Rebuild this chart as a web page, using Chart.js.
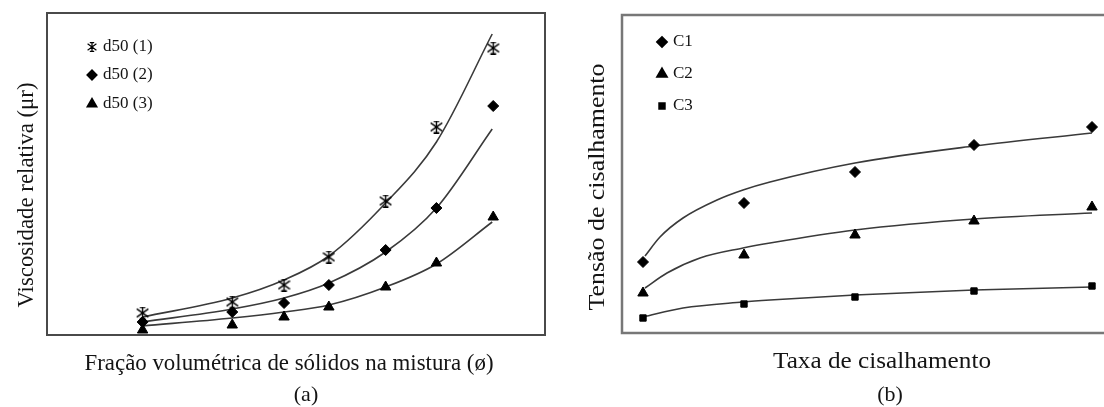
<!DOCTYPE html>
<html>
<head>
<meta charset="utf-8">
<script src="https://cdn.jsdelivr.net/npm/chart.js@4/dist/chart.umd.min.js"></script>
<style>
html, body { margin: 0; padding: 0; background: #fff; overflow: hidden; }
#wrapA { position: absolute; left: 0; top: 0; width: 552px; height: 407px; }
#wrapB { position: absolute; left: 552px; top: 0; width: 608px; height: 407px; }
</style>
</head>
<body>
<div id="wrapA"><canvas id="chartA" width="552" height="407"></canvas></div>
<div id="wrapB"><canvas id="chartB" width="608" height="407"></canvas></div>
<script>
// Panel (a) - no ticks in the original, so values are in plot units
var phiA = [96, 186, 238, 283, 340, 391, 448];
var d50_1 = [22, 33, 50, 78, 134, 208, 287];
var d50_2 = [13, 23, 32, 50, 85, 127, 229];
var d50_3 = [5, 10, 18, 28, 48, 72, 118];
// trend curves
var fitA_x = [96, 186, 238, 283, 340, 391, 447];
var fitA_1 = [18, 37, 55, 79, 132, 193, 301];
var fitA_2 = [13, 26, 37, 52, 83, 127, 206];
var fitA_3 = [9, 17, 23, 30, 48, 71, 113];

// Panel (b)
var rateB = [21, 122, 233, 352, 470];
var c1 = [71, 130, 161, 188, 206];
var c2 = [40, 78, 98, 112, 126];
var c3 = [15, 29, 36, 42, 47];
var fitB1_x = [23, 38, 61, 95, 121, 148, 233, 352, 470];
var fitB1 = [77, 96, 115, 133, 143, 151, 170, 187, 200];
var fitB2_x = [23, 45, 78, 121, 148, 233, 352, 470];
var fitB2 = [45, 60, 75, 85, 90, 103, 114, 120];
var fitB3_x = [21, 61, 121, 148, 233, 352, 470];
var fitB3 = [16, 25, 31, 33, 38, 43, 46];

function pts(xs, ys) {
    return xs.map(function (x, i) { return { x: x, y: ys[i] }; });
}

// excel-like star marker: X + vertical stroke with short caps
function asterisk(size, lw) {
    var c = document.createElement('canvas');
    c.width = size; c.height = size;
    var g = c.getContext('2d');
    var h = lw / 2;
    g.strokeStyle = '#000';
    g.lineWidth = lw;
    g.beginPath();
    g.moveTo(h, size * 0.18); g.lineTo(size - h, size * 0.82);
    g.moveTo(size - h, size * 0.18); g.lineTo(h, size * 0.82);
    g.moveTo(size / 2, 0); g.lineTo(size / 2, size);
    g.moveTo(size * 0.28, h); g.lineTo(size * 0.72, h);
    g.moveTo(size * 0.28, size - h); g.lineTo(size * 0.72, size - h);
    g.stroke();
    return c;
}
var starBig = asterisk(13, 1.4);
var starSmall = asterisk(10, 1.2);

function markerSet(label, xs, ys, style, r, legendStyle, legendR) {
    return {
        label: label,
        data: pts(xs, ys),
        pointStyle: style,
        pointRadius: r,
        pointHoverRadius: r,
        pointBorderWidth: 1,
        backgroundColor: '#000',
        borderColor: '#000',
        showLine: false,
        clip: false,
        legendStyle: legendStyle,
        legendRadius: legendR
    };
}

function fitSet(xs, ys) {
    return {
        label: '',
        trend: true,
        data: pts(xs, ys),
        showLine: true,
        pointRadius: 0,
        pointHoverRadius: 0,
        borderColor: '#3a3a3a',
        borderWidth: 1.6,
        cubicInterpolationMode: 'monotone',
        clip: false,
        fill: false
    };
}

function drawText(ctx, t) {
    ctx.save();
    ctx.font = t.size + 'px "Liberation Serif", "Times New Roman", serif';
    ctx.translate(t.x, t.y);
    if (t.rotate) ctx.rotate(-Math.PI / 2);
    var w = ctx.measureText(t.text).width;
    if (t.width) ctx.scale(t.width / w, 1);
    ctx.textAlign = t.align || 'center';
    ctx.textBaseline = 'middle';
    ctx.fillStyle = '#141414';
    ctx.fillText(t.text, 0, 0);
    ctx.restore();
}

// frame, inset legend and axis captions
var paperPlugin = {
    id: 'paper',
    afterDatasetsDraw: function (chart, args, opts) {
        var ctx = chart.ctx, a = chart.chartArea;
        ctx.save();
        ctx.strokeStyle = opts.frameColor;
        ctx.lineWidth = opts.frameWidth;
        ctx.strokeRect(a.left, a.top, a.right - a.left, a.bottom - a.top);

        var lg = opts.legend;
        var row = 0;
        chart.data.datasets.forEach(function (ds) {
            if (ds.trend) return;
            var y = a.top + lg.rows[row++];
            ctx.fillStyle = '#000';
            ctx.strokeStyle = '#000';
            Chart.helpers.drawPoint(ctx, {
                pointStyle: ds.legendStyle,
                radius: ds.legendRadius,
                rotation: 0,
                borderWidth: 1
            }, a.left + lg.dx, y);
            drawText(ctx, { text: ds.label, x: a.left + lg.textDx, y: y, size: lg.size, align: 'left' });
        });

        opts.titles.forEach(function (t) { drawText(ctx, t); });
        ctx.restore();
    }
};

function baseOptions(pad, xmax, ymax, paper) {
    return {
        responsive: false,
        animation: false,
        events: [],
        layout: { padding: pad },
        scales: {
            x: { type: 'linear', display: false, min: 0, max: xmax },
            y: { type: 'linear', display: false, min: 0, max: ymax }
        },
        plugins: {
            legend: { display: false },
            tooltip: { enabled: false },
            paper: paper
        }
    };
}

var chartA = new Chart(document.getElementById('chartA').getContext('2d'), {
    type: 'scatter',
    data: {
        datasets: [
            markerSet('d50 (1)', phiA, d50_1, starBig, 6, starSmall, 4.5),
            markerSet('d50 (2)', phiA, d50_2, 'rectRot', 5.5, 'rectRot', 4.5),
            markerSet('d50 (3)', phiA, d50_3, 'triangle', 6, 'triangle', 5),
            fitSet(fitA_x, fitA_1),
            fitSet(fitA_x, fitA_2),
            fitSet(fitA_x, fitA_3)
        ]
    },
    options: baseOptions({ left: 47, top: 13, right: 5, bottom: 72 }, 500, 322, {
        frameColor: '#4a4a4a',
        frameWidth: 2,
        legend: { dx: 45, textDx: 56, rows: [34, 62, 91], size: 17 },
        titles: [
            { text: 'Viscosidade relativa (μr)', x: 27, y: 195, size: 24, rotate: true, width: 225 },
            { text: 'Fração volumétrica de sólidos na mistura (ø)', x: 289, y: 364, size: 24, width: 409 },
            { text: '(a)', x: 306, y: 395, size: 22 }
        ]
    }),
    plugins: [paperPlugin]
});

var chartB = new Chart(document.getElementById('chartB').getContext('2d'), {
    type: 'scatter',
    data: {
        datasets: [
            markerSet('C1', rateB, c1, 'rectRot', 5.5, 'rectRot', 4.5),
            markerSet('C2', rateB, c2, 'triangle', 6, 'triangle', 5),
            markerSet('C3', rateB, c3, 'rect', 4.5, 'rect', 3.5),
            fitSet(fitB1_x, fitB1),
            fitSet(fitB2_x, fitB2),
            fitSet(fitB3_x, fitB3)
        ]
    },
    options: baseOptions({ left: 70, top: 15, right: 14, bottom: 74 }, 524, 318, {
        frameColor: '#777777',
        frameWidth: 2.5,
        legend: { dx: 40, textDx: 51, rows: [27, 59, 91], size: 17 },
        titles: [
            { text: 'Tensão de cisalhamento', x: 46, y: 187, size: 24, rotate: true, width: 247 },
            { text: 'Taxa de cisalhamento', x: 330, y: 362, size: 24, width: 218 },
            { text: '(b)', x: 338, y: 395, size: 22 }
        ]
    }),
    plugins: [paperPlugin]
});
</script>
</body>
</html>
